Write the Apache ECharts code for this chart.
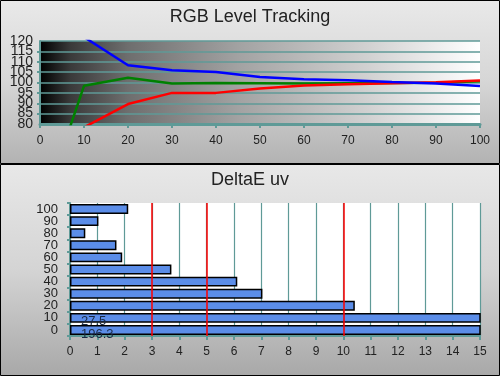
<!DOCTYPE html>
<html>
<head>
<meta charset="utf-8">
<script src="https://cdn.jsdelivr.net/npm/echarts@6/dist/echarts.min.js"></script>
<style>
html,body{margin:0;padding:0;background:#fff;}
#c{width:500px;height:376px;}
</style>
</head>
<body>
<div id="c"></div>
<script>
// RGB Level Tracking data
var levels = [0, 10, 20, 30, 40, 50, 60, 70, 80, 90, 100];
var redVals   = [60, 78.4, 89.6, 95.0, 95.0, 97.1, 98.6, 99.2, 99.6, 100.1, 101.0];
var greenVals = [36, 98.4, 102.3, 99.5, 99.7, 99.6, 99.5, 99.6, 99.7, 99.9, 100.6];
var blueVals  = [140, 121.9, 108.3, 105.9, 105.1, 102.7, 101.6, 101.1, 100.2, 99.5, 98.3];
var rgbTicks = { min: 80, max: 120, step: 5, xMin: 0, xMax: 100, xStep: 10 };

// DeltaE uv data
var deCategories = ['0', '10', '20', '30', '40', '50', '60', '70', '80', '90', '100'];
var deValues = [196.3, 27.5, 10.42, 7.04, 6.12, 3.71, 1.91, 1.70, 0.56, 1.04, 2.13];
var deThresholds = [3, 5, 10];
var deAxisMax = 15;

var FONT = "'Liberation Sans', Arial, sans-serif";
var TEAL = '#5f9a97';

function zip(xs, ys) { return xs.map(function (x, i) { return [x, ys[i]]; }); }

var chart = echarts.init(document.getElementById('c'), null, { renderer: 'canvas' });

var yLabelStyle = { fontFamily: FONT, fontSize: 14, color: '#222', lineHeight: 10 };

var option = {
  animation: false,
  backgroundColor: '#ffffff',
  graphic: [
    { type: 'rect', z: -10, shape: { x: 0.5, y: 0.5, width: 499, height: 163 },
      style: { fill: new echarts.graphic.LinearGradient(0, 0, 0, 1, [
        { offset: 0, color: '#e9e9e9' }, { offset: 0.5, color: '#d6d6d6' }, { offset: 1, color: '#b2b2b2' }]),
        stroke: '#000', lineWidth: 1 } },
    { type: 'rect', z: -10, shape: { x: 0.5, y: 164.5, width: 499, height: 211 },
      style: { fill: new echarts.graphic.LinearGradient(0, 0, 0, 1, [
        { offset: 0, color: '#e8e8e8' }, { offset: 0.5, color: '#d4d4d4' }, { offset: 1, color: '#a8a8a8' }]),
        stroke: '#000', lineWidth: 1 } }
  ],
  title: [
    { text: 'RGB Level Tracking', left: 'center', top: 3,
      textStyle: { fontFamily: FONT, fontSize: 18, fontWeight: 'normal', color: '#222' } },
    { text: 'DeltaE uv', left: 'center', top: 166,
      textStyle: { fontFamily: FONT, fontSize: 18, fontWeight: 'normal', color: '#222' } }
  ],
  grid: [
    { left: 40, top: 41, width: 440, height: 83, show: true, borderWidth: 0,
      backgroundColor: new echarts.graphic.LinearGradient(0, 0, 1, 0, [
        { offset: 0, color: '#000000' }, { offset: 0.07, color: '#3a3a3a' },
        { offset: 0.2, color: '#6e6e6e' }, { offset: 0.45, color: '#a2a2a2' },
        { offset: 0.75, color: '#d2d2d2' }, { offset: 1, color: '#ffffff' }]) },
    { left: 70, top: 203, width: 410, height: 133, show: true, borderWidth: 0, backgroundColor: '#ffffff' }
  ],
  xAxis: [
    { gridIndex: 0, type: 'value', min: rgbTicks.xMin, max: rgbTicks.xMax, interval: rgbTicks.xStep,
      axisLine: { show: true, lineStyle: { color: TEAL, width: 3 } },
      axisTick: { show: true, length: 4, lineStyle: { color: TEAL, width: 2 } },
      splitLine: { show: false },
      axisLabel: { margin: 11, fontFamily: FONT, fontSize: 12, color: '#222',
        showMinLabel: true, showMaxLabel: true, hideOverlap: false } },
    { gridIndex: 1, type: 'value', min: 0, max: deAxisMax, interval: 1,
      axisLine: { show: true, lineStyle: { color: TEAL, width: 2 } },
      axisTick: { show: true, length: 4, lineStyle: { color: TEAL, width: 2 } },
      splitLine: { show: true, lineStyle: { color: TEAL, width: 1.2 } },
      axisLabel: { margin: 10, fontFamily: FONT, fontSize: 12, color: '#222',
        showMinLabel: true, showMaxLabel: true, hideOverlap: false } }
  ],
  yAxis: [
    { gridIndex: 0, type: 'value', min: rgbTicks.min, max: rgbTicks.max, interval: rgbTicks.step,
      axisLine: { show: true, lineStyle: { color: TEAL, width: 2 } },
      axisTick: { show: true, length: 3, lineStyle: { color: TEAL, width: 2 } },
      splitLine: { show: true, lineStyle: { color: TEAL, width: 1.5 } },
      axisLabel: Object.assign({ margin: 7, showMinLabel: false, showMaxLabel: false, hideOverlap: false }, yLabelStyle) },
    { gridIndex: 1, type: 'category', data: deCategories,
      axisLine: { show: true, lineStyle: { color: TEAL, width: 2 } },
      axisTick: { show: true, length: 3, lineStyle: { color: TEAL, width: 2 } },
      splitLine: { show: false },
      axisLabel: { interval: 0, margin: 12, fontFamily: FONT, fontSize: 13, color: '#222', lineHeight: 11,
        hideOverlap: false } },
    { gridIndex: 0, type: 'value', min: rgbTicks.min, max: rgbTicks.max, interval: rgbTicks.step,
      position: 'left', offset: 0,
      axisLine: { show: false }, axisTick: { show: false }, splitLine: { show: false },
      axisLabel: Object.assign({ margin: 7, showMinLabel: true, showMaxLabel: true, hideOverlap: false,
        formatter: function (v) { return (v === rgbTicks.min || v === rgbTicks.max) ? String(v) : ''; } }, yLabelStyle) }
  ],
  series: [
    { type: 'line', xAxisIndex: 0, yAxisIndex: 0, data: zip(levels, greenVals),
      showSymbol: false, symbol: 'none', clip: true, lineStyle: { color: '#008000', width: 2.5 } },
    { type: 'line', xAxisIndex: 0, yAxisIndex: 0, data: zip(levels, redVals),
      showSymbol: false, symbol: 'none', clip: true, lineStyle: { color: '#ff0000', width: 2.5 } },
    { type: 'line', xAxisIndex: 0, yAxisIndex: 0, data: zip(levels, blueVals),
      showSymbol: false, symbol: 'none', clip: true, lineStyle: { color: '#0000ff', width: 2.5 } },
    { type: 'bar', xAxisIndex: 1, yAxisIndex: 1, data: deValues, clip: true,
      barCategoryGap: '18%',
      itemStyle: { color: '#5b8de8', borderColor: '#000', borderWidth: 1.5 },
      label: { show: true, position: 'insideLeft', offset: [6, 4],
        fontFamily: FONT, fontSize: 13, color: '#1a2a44',
        formatter: function (p) { return p.value > deAxisMax ? String(p.value) : ''; } },
      markLine: { silent: true, symbol: 'none', label: { show: false },
        lineStyle: { color: '#ff0000', width: 1.5, type: 'solid' },
        data: deThresholds.map(function (v) { return { xAxis: v }; }) } }
  ]
};
chart.setOption(option);
</script>
</body>
</html>
